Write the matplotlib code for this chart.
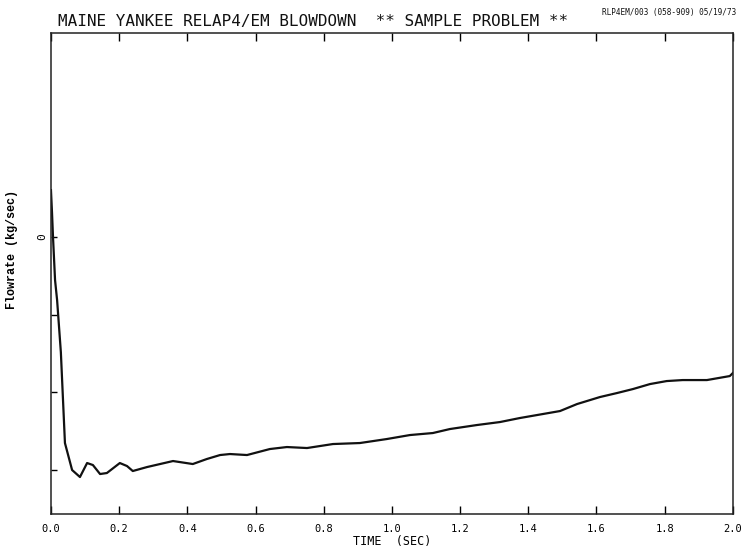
import matplotlib
matplotlib.use("Agg")
import matplotlib.pyplot as plt

# данные (время, с; расход, кг/с)
time_s = [0.000, 0.003, 0.006, 0.012, 0.018, 0.029, 0.041, 0.062, 0.085, 0.106,
          0.123, 0.144, 0.164, 0.202, 0.223, 0.240, 0.282, 0.320, 0.358, 0.416,
          0.457, 0.496, 0.525, 0.575, 0.642, 0.692, 0.751, 0.827, 0.906, 0.985,
          1.053, 1.120, 1.170, 1.249, 1.317, 1.375, 1.493, 1.543, 1.610, 1.660,
          1.707, 1.757, 1.806, 1.853, 1.924, 1.991, 2.000]
flow = [940, 500, 0, -860, -1260, -2300, -4120, -4660, -4800, -4520,
        -4560, -4740, -4720, -4520, -4580, -4680, -4600, -4540, -4480, -4540,
        -4440, -4360, -4340, -4360, -4240, -4200, -4220, -4140, -4120, -4040,
        -3960, -3920, -3840, -3760, -3700, -3620, -3480, -3340, -3200, -3120,
        -3040, -2940, -2880, -2860, -2860, -2780, -2720]

x_ticks = [0.0, 0.2, 0.4, 0.6, 0.8, 1.0, 1.2, 1.4, 1.6, 1.8, 2.0]
x_labels = ["0.0", "0.2", "0.4", "0.6", "0.8", "1.0", "1.2", "1.4", "1.6", "1.8", "2.0"]
y_ticks = [0, -1550, -3100, -4650]
y_labels = ["0", "", "", ""]

fig = plt.figure(figsize=(7.44, 5.53), dpi=100)
ax = fig.add_axes([0.0685, 0.0705, 0.9165, 0.8695])

ax.plot(time_s, flow, color="#111111", lw=1.6)

ax.set_xlim(0, 2.0)
ax.set_ylim(-5540, 4080)

ax.set_xticks(x_ticks)
ax.set_xticklabels(x_labels, family="DejaVu Sans Mono", fontsize=7.5)
ax.set_yticks(y_ticks)
ax.set_yticklabels(y_labels, family="DejaVu Sans Mono", fontsize=8, rotation=90, va="center")
ax.tick_params(axis="x", direction="in", length=6, width=1.0, top=True, pad=7)
ax.tick_params(axis="y", direction="in", length=4, width=1.0, pad=3)

for s in ax.spines.values():
    s.set_linewidth(1.1)
    s.set_color("#222222")

ax.set_xlabel("TIME  (SEC)", family="DejaVu Sans Mono", fontsize=8.5, labelpad=1)
ax.set_ylabel("Flowrate (kg/sec)", family="Liberation Mono", fontsize=8.5, weight="bold")
ax.yaxis.set_label_coords(-0.048, 0.55)

fig.text(0.078, 0.962, "MAINE YANKEE RELAP4/EM BLOWDOWN  ** SAMPLE PROBLEM **",
         family="DejaVu Sans Mono", fontsize=11.5, ha="left", va="center", color="#111111")
fig.text(0.99, 0.978, "RLP4EM/003 (058-909) 05/19/73",
         family="DejaVu Sans Mono", fontsize=5.6, ha="right", va="center", color="#111111")

fig.savefig("out.png", dpi=100)
